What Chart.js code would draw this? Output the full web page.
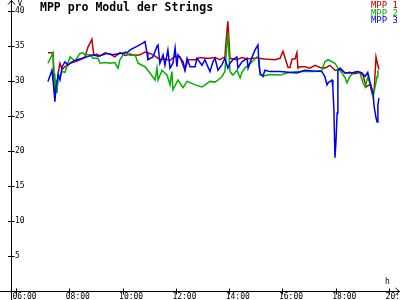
<!DOCTYPE html>
<html>
<head>
<meta charset="utf-8">
<script src="https://cdn.jsdelivr.net/npm/chart.js"></script>
<style>
html, body { margin: 0; padding: 0; background: #fff; }
#wrap { width: 400px; height: 300px; }
</style>
</head>
<body>
<div id="wrap"><canvas id="chart" width="400" height="300"></canvas></div>
<script>
// Zeit in Stunden, Werte in V
const mpp1Hours = [7.20, 7.39, 7.43, 7.46, 7.50, 7.54, 7.58, 7.65, 7.73, 7.84, 8.03, 8.21, 8.40, 8.59, 8.70, 8.85, 8.89, 8.93,
  9.04, 9.15, 9.34, 9.53, 9.71, 9.90, 10.09, 10.28, 10.47, 10.65, 10.84, 11.03, 11.22, 11.40, 11.59, 11.78, 11.97, 12.15,
  12.34, 12.45, 12.72, 12.90, 13.09, 13.28, 13.47, 13.65, 13.84, 13.88, 13.95, 13.99, 14.03, 14.29, 14.48, 14.67, 14.86,
  15.08, 15.34, 15.72, 15.91, 16.02, 16.10, 16.21, 16.28, 16.36, 16.47, 16.54, 16.58, 16.66, 16.84, 17.03, 17.22, 17.41,
  17.59, 17.78, 17.97, 18.16, 18.35, 18.53, 18.72, 18.91, 19.02, 19.14, 19.28, 19.36, 19.44, 19.51, 19.58, 19.62];
const mpp1Values = [34.0, 34.0, 29.0, 27.6, 30.0, 28.5, 31.0, 32.5, 31.6, 32.0, 32.5, 32.7, 33.0, 33.4, 34.8, 35.9, 34.5, 33.6,
  33.8, 33.5, 34.0, 33.8, 33.4, 34.0, 33.6, 33.8, 33.6, 33.7, 34.1, 33.9, 33.5, 33.0, 33.1, 32.9, 33.5, 33.4,
  31.5, 33.0, 33.0, 33.3, 33.2, 33.2, 33.3, 33.0, 33.4, 35.5, 38.5, 36.0, 33.2, 33.0, 33.3, 33.1, 33.2,
  33.2, 33.1, 33.0, 33.2, 34.2, 33.2, 31.9, 31.9, 33.1, 33.1, 34.0, 31.8, 32.0, 32.0, 31.8, 32.2, 31.9,
  31.8, 32.2, 31.5, 31.6, 31.1, 31.2, 31.0, 31.2, 30.8, 29.1, 29.5, 28.2, 28.6, 33.4, 32.2, 31.6];

const mpp2Hours = [7.20, 7.39, 7.43, 7.46, 7.50, 7.54, 7.58, 7.65, 7.73, 7.84, 7.95, 8.03, 8.21, 8.40, 8.51, 8.59, 8.78, 8.89,
  9.08, 9.15, 9.34, 9.53, 9.71, 9.83, 9.90, 10.09, 10.28, 10.47, 10.58, 10.84, 11.03, 11.22, 11.29, 11.33, 11.48, 11.67,
  11.78, 11.85, 11.89, 12.08, 12.27, 12.42, 12.72, 12.98, 13.28, 13.47, 13.58, 13.73, 13.84, 13.88, 13.95, 13.99, 14.03,
  14.14, 14.29, 14.41, 14.48, 14.59, 14.71, 14.86, 15.04, 15.12, 15.16, 15.34, 15.53, 15.91, 16.17, 16.54, 17.22, 17.48,
  17.59, 17.71, 17.97, 18.08, 18.23, 18.35, 18.42, 18.53, 18.72, 18.91, 19.02, 19.10, 19.20, 19.36, 19.40, 19.55, 19.58];
const mpp2Values = [32.5, 34.0, 31.0, 28.0, 29.5, 28.2, 31.0, 30.5, 31.3, 31.2, 32.5, 33.4, 32.8, 33.9, 34.0, 33.7, 33.7, 33.2,
  33.2, 32.5, 32.6, 32.5, 32.6, 31.8, 33.0, 34.1, 33.6, 33.7, 32.5, 32.0, 31.1, 30.1, 31.8, 30.1, 31.5, 30.8,
  29.4, 31.3, 28.7, 30.1, 29.0, 29.9, 29.4, 29.1, 29.9, 29.8, 30.1, 30.6, 31.3, 33.5, 36.8, 34.0, 31.3,
  30.8, 31.5, 30.4, 31.2, 31.8, 32.2, 32.7, 33.4, 33.2, 30.8, 30.7, 30.9, 30.8, 31.1, 31.3, 31.3, 31.5,
  32.7, 33.0, 32.5, 31.8, 31.1, 30.4, 29.7, 30.6, 31.3, 31.1, 29.7, 29.1, 30.5, 28.7, 27.7, 30.6, 31.5];

const mpp3Hours = [7.20, 7.35, 7.43, 7.46, 7.50, 7.58, 7.65, 7.73, 7.84, 7.95, 8.10, 8.29, 8.51, 8.66, 8.89, 9.08, 9.26, 9.41,
  9.64, 9.90, 10.09, 10.20, 10.28, 10.54, 10.77, 10.84, 10.92, 10.95, 11.14, 11.29, 11.33, 11.40, 11.52, 11.59, 11.70,
  11.78, 11.89, 11.97, 12.04, 12.08, 12.27, 12.34, 12.42, 12.53, 12.72, 12.79, 12.98, 13.09, 13.20, 13.28, 13.39, 13.47,
  13.58, 13.73, 13.84, 13.95, 14.03, 14.14, 14.29, 14.33, 14.48, 14.67, 14.71, 14.86, 14.97, 15.08, 15.12, 15.16, 15.27,
  15.34, 15.53, 15.91, 16.54, 16.84, 17.48, 17.59, 17.67, 17.71, 17.86, 17.89, 17.93, 17.97, 18.01, 18.05, 18.08, 18.16,
  18.35, 18.61, 18.83, 18.98, 19.10, 19.20, 19.28, 19.40, 19.44, 19.51, 19.55, 19.58, 19.62];
const mpp3Values = [29.9, 31.5, 28.5, 27.0, 29.0, 30.8, 30.1, 32.0, 32.7, 32.2, 32.7, 33.0, 33.2, 33.4, 33.7, 33.5, 33.7, 33.9,
  33.7, 33.9, 34.0, 34.1, 34.4, 34.9, 35.4, 35.6, 33.9, 33.0, 33.4, 34.9, 35.1, 32.5, 33.7, 32.2, 34.4,
  31.8, 32.5, 34.7, 32.0, 33.7, 32.7, 31.5, 33.2, 32.0, 32.0, 33.2, 32.2, 33.0, 32.0, 31.3, 32.7, 33.2,
  31.5, 32.3, 33.2, 31.8, 32.5, 33.0, 33.4, 31.8, 32.7, 33.2, 31.8, 33.4, 34.4, 35.1, 32.2, 31.1, 30.6,
  31.5, 31.3, 31.3, 31.1, 31.5, 31.3, 30.6, 29.4, 29.7, 30.1, 29.1, 25.8, 19.0, 21.5, 25.4, 31.5, 31.8,
  31.1, 31.1, 31.3, 31.1, 30.6, 31.2, 29.9, 28.2, 26.3, 24.7, 24.1, 26.5, 27.5];

const seriesNames = ["MPP 1", "MPP 2", "MPP 3"];
const yTickValues = [5, 10, 15, 20, 25, 30, 35, 40];
const xTickHours = [6, 8, 10, 12, 14, 16, 18, 20];
const xTickLabels = ["06:00", "08:00", "10:00", "12:00", "14:00", "16:00", "18:00", "20:00"];

const colors = ["#c00000", "#00b000", "#0000f0"];
const MONO = '"DejaVu Sans Mono", monospace';
const AXIS_START = 5.81; // hier kreuzt die y-Achse

function toPoints(hours, values) {
  return hours.map((h, i) => ({ x: h, y: values[i] }));
}

// Achsen mit Pfeilen, Beschriftungen, Titel und Legende
const axesPlugin = {
  id: "axes",
  beforeDatasetsDraw(chart) {
    const ctx = chart.ctx;
    const xs = chart.scales.x;
    const ys = chart.scales.y;
    const ax = Math.round(xs.getPixelForValue(AXIS_START)) + 0.5;
    const ay = Math.round(ys.getPixelForValue(0)) + 0.5;
    ctx.save();
    ctx.strokeStyle = "#000";
    ctx.fillStyle = "#000";
    ctx.lineWidth = 1;
    ctx.beginPath();
    // y-Achse
    ctx.moveTo(ax, 0); ctx.lineTo(ax, 300);
    ctx.moveTo(ax - 3.5, 4.5); ctx.lineTo(ax, 0.5); ctx.lineTo(ax + 3.5, 4.5);
    // x-Achse
    ctx.moveTo(0, ay); ctx.lineTo(400, ay);
    ctx.moveTo(395.5, ay - 3.5); ctx.lineTo(399.5, ay); ctx.lineTo(395.5, ay + 3.5);
    yTickValues.forEach(v => {
      const py = Math.round(ys.getPixelForValue(v)) + 0.5;
      ctx.moveTo(ax - 3.5, py); ctx.lineTo(ax + 3, py);
    });
    xTickHours.forEach(h => {
      const px = Math.round(xs.getPixelForValue(h)) + 0.5;
      ctx.moveTo(px, ay - 3); ctx.lineTo(px, ay + 3);
    });
    ctx.stroke();

    ctx.font = "8px " + MONO;
    ctx.textBaseline = "middle";
    ctx.textAlign = "left";
    yTickValues.forEach(v => {
      ctx.fillText(String(v), ax + 3.5, ys.getPixelForValue(v) + 0.5);
    });
    xTickHours.forEach((h, i) => {
      ctx.fillText(xTickLabels[i], xs.getPixelForValue(h) - 3.5, ay + 5.5);
    });
    ctx.fillText("V", ax + 6, 4);
    ctx.fillText("h", 385, 282);

    ctx.font = "bold 11.5px " + MONO;
    ctx.textBaseline = "alphabetic";
    ctx.fillText("MPP pro Modul der Strings", 40, 11);

    ctx.font = "9px " + MONO;
    ctx.textAlign = "right";
    seriesNames.forEach((name, i) => {
      ctx.fillStyle = colors[i];
      ctx.fillText(name, 398, 8 + i * 7.5);
    });
    ctx.restore();
  }
};

new Chart(document.getElementById("chart"), {
  type: "line",
  data: {
    datasets: [
      { label: seriesNames[0], data: toPoints(mpp1Hours, mpp1Values), borderColor: colors[0], order: 2 },
      { label: seriesNames[1], data: toPoints(mpp2Hours, mpp2Values), borderColor: colors[1], order: 1 },
      { label: seriesNames[2], data: toPoints(mpp3Hours, mpp3Values), borderColor: colors[2], order: 0 }
    ]
  },
  options: {
    responsive: false,
    animation: false,
    events: [],
    layout: { padding: 0 },
    elements: {
      line: { borderWidth: 1.5, tension: 0, fill: false },
      point: { radius: 0 }
    },
    scales: {
      x: { type: "linear", min: 5.40, max: 20.41, display: false },
      y: { type: "linear", min: -1.33, max: 41.53, display: false }
    },
    plugins: {
      legend: { display: false },
      tooltip: { enabled: false },
      title: { display: false }
    }
  },
  plugins: [axesPlugin]
});
</script>
</body>
</html>
